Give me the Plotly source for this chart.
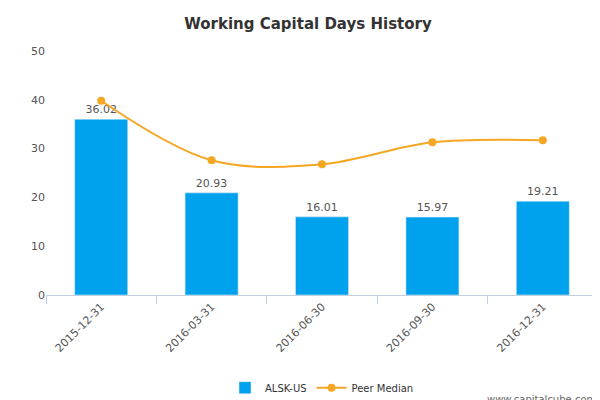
import plotly.graph_objects as go

categories = ["2015-12-31", "2016-03-31", "2016-06-30", "2016-09-30", "2016-12-31"]
alsk = [36.02, 20.93, 16.01, 15.97, 19.21]
peer = [39.8, 27.6, 26.8, 31.3, 31.7]
labels = ["36.02", "20.93", "16.01", "15.97", "19.21"]

fig = go.Figure()
fig.add_trace(go.Bar(x=categories, y=alsk, name="ALSK-US", marker_color="#00a2ed",
                     width=0.48, text=labels, textposition="outside",
                     textfont=dict(size=11, color="#555555"), cliponaxis=False))
fig.add_trace(go.Scatter(x=categories, y=peer, name="Peer Median", mode="lines+markers",
                         line=dict(color="#f5a623", width=2, shape="spline"),
                         marker=dict(size=8, color="#f5a623")))
fig.update_layout(
    width=600, height=400, margin=dict(l=38, r=10, t=43, b=113, autoexpand=False),
    plot_bgcolor="white", paper_bgcolor="white",
    font=dict(family="DejaVu Sans", size=11, color="#555555"),
    title=dict(text="<b>Working Capital Days History</b>", x=0.5, y=0.96, xanchor="center",
               yanchor="middle", font=dict(size=15, color="#333333")),
    xaxis=dict(type="category", tickangle=-45, showline=True, linecolor="#c0d0e0", ticks="outside",
               tickson="boundaries", tickcolor="#c0d0e0", ticklen=8, showgrid=False,
               tickfont=dict(size=11, color="#555555")),
    yaxis=dict(range=[0, 50], dtick=10, showgrid=False, zeroline=False,
               tickfont=dict(size=11, color="#555555")),
    legend=dict(orientation="h", x=0.5, xanchor="center", y=-0.38, yanchor="middle",
                font=dict(size=10, color="#333333")),
)
fig.add_annotation(text="www.capitalcube.com", xref="paper", yref="paper", x=1.0, y=-0.43,
                   xanchor="right", yanchor="middle", showarrow=False,
                   font=dict(size=10, color="#666666"))
fig.write_html("out.html")
